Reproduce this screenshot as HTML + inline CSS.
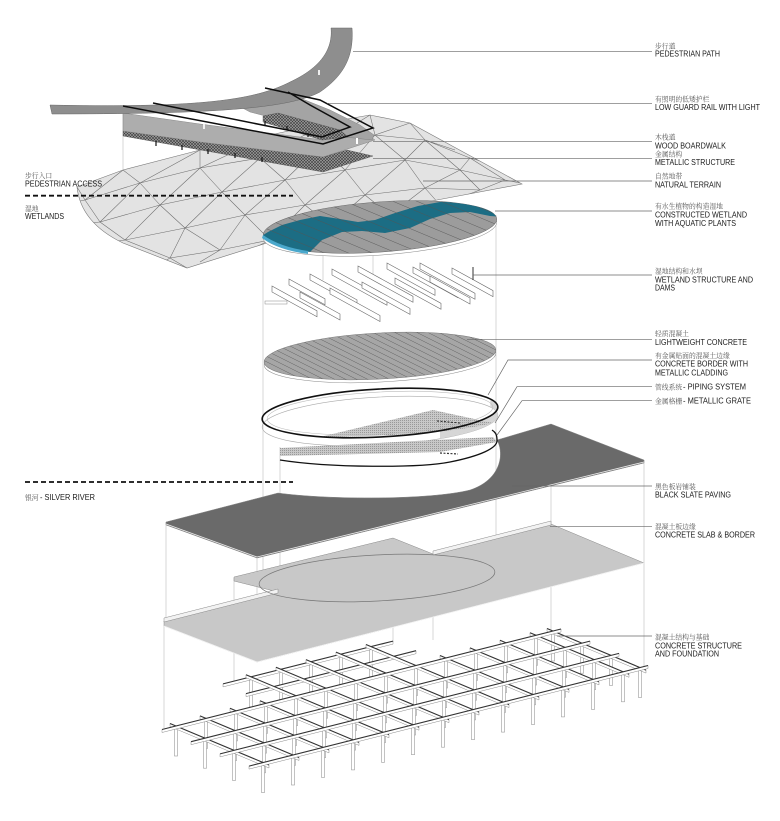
<!DOCTYPE html>
<html><head><meta charset="utf-8">
<style>
html,body{margin:0;padding:0;background:#fff;}
svg{display:block;}
.en{font-family:"Liberation Sans",Arial,sans-serif;font-size:8px;fill:#1a1a1a;}
.cn{font-family:"Liberation Serif","Noto Serif CJK SC","Noto Sans CJK SC",serif;font-size:6.8px;fill:#555;}
.ld{stroke:#666;stroke-width:0.7;fill:none;}
.vl{stroke:#bdbdbd;stroke-width:0.6;fill:none;}
.bm{fill:#fff;stroke:#8a8a8a;stroke-width:0.5;}
.bt{stroke:#333;stroke-width:1.1;fill:none;}
.pt{fill:#fff;stroke:#999;stroke-width:0.6;}
.fin{fill:#fff;stroke:#666;stroke-width:0.6;}
</style></head><body>
<svg width="780" height="821" viewBox="0 0 780 821" xmlns="http://www.w3.org/2000/svg">
<defs>
<pattern id="hatch" width="3" height="3" patternUnits="userSpaceOnUse">
<rect width="3" height="3" fill="#9c9c9c"/>
<path d="M0,0 L3,3 M3,0 L0,3" stroke="#3a3a3a" stroke-width="0.6"/>
</pattern>
<pattern id="grate" width="2" height="2" patternUnits="userSpaceOnUse">
<rect width="2" height="2" fill="#c8c8c8"/>
<rect width="1" height="1" fill="#999"/>
</pattern>
<clipPath id="terrClip"><path d="M77,187 L123,170 L200,150 L270,135 L330,122 L370,115 L410,123 L522,184 L437,200 L300,228 L270,242 L187,268 L123,243 C100,232 80,215 77,187 Z"/></clipPath>
<clipPath id="wetClip"><ellipse cx="380" cy="227" rx="117" ry="25" transform="rotate(-4 380 227)"/></clipPath>
<clipPath id="lwClip"><ellipse cx="380" cy="356" rx="116" ry="23" transform="rotate(-3 380 356)"/></clipPath>
</defs>

<!-- vertical projection lines -->
<g class="vl">
<path d="M123,106 V200 M275,137 V240 M323,143 V280 M373,130 V280 M263,236 V583 M496,215 V575 M280,447 V595 M166,522 V626 M164,626 V728 M234,578 V684 M257,558 V662 M551,424 V630 M644,460 V667 M393,538 V642 M433,554 V640"/>
</g>

<!-- terrain -->
<path d="M77,187 L123,170 L200,150 L270,135 L330,122 L370,115 L410,123 L522,184 L437,200 L300,228 L270,242 L187,268 L123,243 C100,232 80,215 77,187 Z" fill="#e3e3e3" stroke="#777" stroke-width="0.6"/>
<g clip-path="url(#terrClip)" stroke="#6e6e6e" stroke-width="0.55" fill="none">
<path d="M60,205 L85,200 L140,183 L200,168 L260,158 L320,146 L375,135 L425,140 L470,158 L530,175
M70,225 L100,222 L160,205 L222,192 L285,180 L345,170 L405,160 L460,170 L505,180 L530,185
M90,245 L125,240 L185,228 L245,215 L305,205 L365,195 L425,188 L480,190
M150,270 L170,258 L220,250 L270,240 L330,225 L390,215 L440,205
M85,200 L100,222 M140,183 L160,205 M200,168 L222,192 M260,158 L285,180 M320,146 L345,170 M375,135 L405,160 M425,140 L460,170 M470,158 L505,180
M140,183 L100,222 M200,168 L160,205 M260,158 L222,192 M320,146 L285,180 M375,135 L345,170 M425,140 L405,160 M470,158 L460,170
M100,222 L125,240 M160,205 L185,228 M222,192 L245,215 M285,180 L305,205 M345,170 L365,195 M405,160 L425,188 M460,170 L480,190
M160,205 L125,240 M222,192 L185,228 M285,180 L245,215 M345,170 L305,205 M405,160 L365,195 M460,170 L425,188 M505,180 L480,190
M125,240 L170,258 M185,228 L220,250 M245,215 L270,240 M305,205 L330,225 M365,195 L390,215 M425,188 L440,205
M185,228 L170,258 M245,215 L220,250 M305,205 L270,240 M365,195 L330,225 M425,188 L390,215 M480,190 L440,205
M77,187 L85,200 M123,170 L85,200 M123,170 L140,183 M200,150 L140,183 M200,150 L200,168 M270,135 L200,168 M270,135 L260,158 M330,122 L260,158 M330,122 L320,146 M370,115 L320,146 M370,115 L375,135 M410,123 L375,135 M410,123 L425,140 M455,150 L425,140
M170,258 L187,268 M220,250 L200,262 M270,240 L240,255"/>
</g>

<!-- boardwalk hatched strip 1 -->
<path d="M123,131 L323,157 L347,150 L373,156 L323,172 L123,136 Z" fill="url(#hatch)" stroke="#555" stroke-width="0.4"/>
<!-- deck A -->
<path d="M123,113 L200,124 L323,140 L367,134 L375,140 L323,157 L200,142 L123,131 Z" fill="#adadad" stroke="#777" stroke-width="0.4"/>
<!-- deck B -->
<path d="M235,104 L300,98 L330,110 L360,125 L374,135 L372,140 L345,137 L300,125 L250,112 Z" fill="#a4a4a4" stroke="#777" stroke-width="0.4"/>
<!-- pedestrian path -->
<path d="M331,28 L352,28 C354,55 345,75 320,92 C290,108 220,114 52,114 L50,105 C200,108 255,100 290,82 C320,68 333,50 331,28 Z" fill="#8e8e8e" stroke="#666" stroke-width="0.5"/>
<!-- hatched strip 2 -->
<path d="M263,116 L278,113 L340,130 L348,137 L322,140 L263,122 Z" fill="url(#hatch)" stroke="#555" stroke-width="0.4"/>
<!-- ticks -->
<path d="M156,141 V146 M182,145 V150 M208,149 V154 M235,153 V158 M262,157 V162 M265,121 V125 M287,126 V130 M308,133 V137" stroke="#111" stroke-width="1.2"/>
<!-- rails -->
<path d="M123,106 L323,144 L373,128 L320,100 L265,88 M153,103 L322,137 L350,127 L310,105 L288,92" stroke="#0d0d0d" stroke-width="1.5" fill="none"/>
<rect x="356" y="138" width="2" height="6" fill="#fff"/>
<rect x="203" y="124" width="2" height="5" fill="#eee"/>
<rect x="318" y="70" width="2" height="5" fill="#eee"/>

<!-- wetland -->
<ellipse cx="380" cy="230" rx="117" ry="25" transform="rotate(-4 380 230)" fill="#fff" stroke="#888" stroke-width="0.5"/>
<ellipse cx="380" cy="227" rx="117" ry="25" transform="rotate(-4 380 227)" fill="#9c9c9c" stroke="#666" stroke-width="0.5"/>
<g clip-path="url(#wetClip)">
<path d="M255,240 L268,232 L282,225 L300,220 L320,216 L340,219 L358,222 L375,220 L395,213 L418,206 L440,202 L465,201 L485,202 L505,208 L505,217 L490,216 L470,212 L450,213 L430,219 L410,228 L385,233 L362,231 L342,232 L322,240 L310,252 L290,255 L260,255 Z" fill="#1c6d84"/>
<path d="M150,190 L310,257 M174,190 L334,257 M198,190 L358,257 M222,190 L382,257 M246,190 L406,257 M270,190 L430,257 M294,190 L454,257 M318,190 L478,257 M342,190 L502,257 M366,190 L526,257 M390,190 L550,257 M414,190 L574,257 M438,190 L598,257 M462,190 L622,257 M486,190 L646,257" stroke="#555" stroke-width="0.45" fill="none"/>
</g>
<path d="M263,235 Q280,247 308,251 L308,254 Q278,250 262,238 Z" fill="#4aa8cc"/>

<!-- dams / fins -->
<g>
<polygon class="fin" points="387,263 435,289.4 435,295.4 387,269"/>
<polygon class="fin" points="420,263 475,293.3 475,299.3 420,269"/>
<polygon class="fin" points="358,266 413,296.3 413,302.3 358,272"/>
<polygon class="fin" points="413,267 458,291.8 458,297.8 413,273"/>
<polygon class="fin" points="452,268 493,290.6 493,296.6 452,274"/>
<polygon class="fin" points="332,269 387,299.3 387,305.3 332,275"/>
<polygon class="fin" points="310,274 357,299.9 357,305.9 310,280"/>
<polygon class="fin" points="430,276 470,298 470,304 430,282"/>
<polygon class="fin" points="395,278 441,303.3 441,309.3 395,284"/>
<polygon class="fin" points="289,279 325,298.8 325,304.8 289,285"/>
<polygon class="fin" points="362,282 410,308.4 410,314.4 362,288"/>
<polygon class="fin" points="272,286 317,310.8 317,316.8 272,292"/>
<polygon class="fin" points="330,288 380,315.5 380,321.5 330,294"/>
<polygon class="fin" points="300,292 340,314 340,320 300,298"/>
<rect x="265" y="301" width="22" height="3" fill="#fff" stroke="#888" stroke-width="0.5"/>
<path d="M473,267 V280" stroke="#333" stroke-width="1"/>
</g>

<!-- lightweight concrete -->
<ellipse cx="380" cy="359" rx="116" ry="23" transform="rotate(-3 380 359)" fill="#fff" stroke="#888" stroke-width="0.5"/>
<ellipse cx="380" cy="356" rx="116" ry="23" transform="rotate(-3 380 356)" fill="#a6a6a6" stroke="#777" stroke-width="0.5"/>
<g clip-path="url(#lwClip)">
<path d="M150,320 L290,390 M161,320 L301,390 M172,320 L312,390 M183,320 L323,390 M194,320 L334,390 M205,320 L345,390 M216,320 L356,390 M227,320 L367,390 M238,320 L378,390 M249,320 L389,390 M260,320 L400,390 M271,320 L411,390 M282,320 L422,390 M293,320 L433,390 M304,320 L444,390 M315,320 L455,390 M326,320 L466,390 M337,320 L477,390 M348,320 L488,390 M359,320 L499,390 M370,320 L510,390 M381,320 L521,390 M392,320 L532,390 M403,320 L543,390 M414,320 L554,390 M425,320 L565,390 M436,320 L576,390 M447,320 L587,390 M458,320 L598,390 M469,320 L609,390" stroke="#5a5a5a" stroke-width="0.45" fill="none"/>
</g>

<!-- black slate -->
<path d="M551,424 L644,460 L644,463 L257,558 L166,525 L166,522 L278,493 C330,500 430,500 470,490 C500,480 505,455 497,440 Z" fill="#6a6a6a" stroke="#888" stroke-width="0.5"/>
<path d="M166,524 L257,557 L644,462" stroke="#eee" stroke-width="0.8" fill="none"/>

<!-- ring / border -->
<ellipse cx="380" cy="421" rx="118" ry="24" transform="rotate(-3 380 421)" fill="none" stroke="#aaa" stroke-width="0.6"/>
<path d="M490.3,399 A118,24,-3,0,1,440,430.7 L440,438.7 A118,24,-3,0,0,490.3,407 Z" fill="#d6d6d6"/>
<path d="M320,437 L433,410 L493,423 Q440,436 320,437 Z" fill="url(#grate)"/>
<path d="M437,421 L460,423" stroke="#222" stroke-width="1" stroke-dasharray="2 1.5"/>
<ellipse cx="380" cy="413" rx="113" ry="21" transform="rotate(-3 380 413)" fill="none" stroke="#bbb" stroke-width="0.6"/>
<ellipse cx="380" cy="413" rx="118" ry="24" transform="rotate(-3 380 413)" fill="none" stroke="#111" stroke-width="1.6"/>
<path d="M280,448 L493,437 L497,442 L440,452 L280,456 Z" fill="url(#grate)"/>
<path d="M440,453 L458,454" stroke="#333" stroke-width="1.2" stroke-dasharray="2 1.5"/>
<path d="M280,460 C330,468 420,468 450,462 C480,456 498,448 497,440 C497,434 495,432 492,430" stroke="#111" stroke-width="1.3" fill="none"/>

<!-- concrete slab -->
<path d="M551,524 L644,563 L257,662 L164,626 L164,621 L278,592 L234,581 L234,577 L393,538 L433,554 Z" fill="#c8c8c8" stroke="#888" stroke-width="0.5"/>
<polygon points="433,551 551,521 551,525 433,555" fill="#f2f2f2" stroke="#888" stroke-width="0.5"/>
<polygon points="164,618 278,589 278,593 164,622" fill="#f2f2f2" stroke="#888" stroke-width="0.5"/>
<ellipse cx="377" cy="578" rx="118" ry="23" transform="rotate(-3 377 578)" fill="none" stroke="#777" stroke-width="0.7"/>
<path d="M164,626 L257,662 L644,563" stroke="#f5f5f5" stroke-width="0.8" fill="none"/>

<!-- foundation posts -->
<g class="pt">
<rect x="249.5" y="676.8" width="3" height="30"/><rect x="279.5" y="669.3" width="3" height="30"/><rect x="309.5" y="661.7" width="3" height="30"/><rect x="339.5" y="654.2" width="3" height="30"/><rect x="369.5" y="646.6" width="3" height="30"/>
<rect x="174.5" y="726" width="3" height="30"/><rect x="204.5" y="718.4" width="3" height="30"/><rect x="234.5" y="710.9" width="3" height="30"/><rect x="264.5" y="703.3" width="3" height="30"/><rect x="294.5" y="695.7" width="3" height="30"/><rect x="324.5" y="688.2" width="3" height="30"/><rect x="354.5" y="680.6" width="3" height="30"/><rect x="384.5" y="673.1" width="3" height="30"/><rect x="414.5" y="665.5" width="3" height="30"/><rect x="444.5" y="658" width="3" height="30"/><rect x="474.5" y="650.4" width="3" height="30"/><rect x="504.5" y="642.8" width="3" height="30"/><rect x="534.5" y="635.3" width="3" height="30"/><rect x="551.5" y="631" width="3" height="30"/>
<rect x="203.5" y="738.2" width="3" height="30"/><rect x="233.5" y="730.6" width="3" height="30"/><rect x="263.5" y="723.1" width="3" height="30"/><rect x="293.5" y="715.5" width="3" height="30"/><rect x="323.5" y="707.9" width="3" height="30"/><rect x="353.5" y="700.4" width="3" height="30"/><rect x="383.5" y="692.8" width="3" height="30"/><rect x="413.5" y="685.3" width="3" height="30"/><rect x="443.5" y="677.7" width="3" height="30"/><rect x="473.5" y="670.2" width="3" height="30"/><rect x="503.5" y="662.6" width="3" height="30"/><rect x="533.5" y="655" width="3" height="30"/><rect x="563.5" y="647.5" width="3" height="30"/><rect x="580.5" y="643.2" width="3" height="30"/>
<rect x="232.5" y="750.4" width="3" height="30"/><rect x="262.5" y="742.8" width="3" height="30"/><rect x="292.5" y="735.3" width="3" height="30"/><rect x="322.5" y="727.7" width="3" height="30"/><rect x="352.5" y="720.1" width="3" height="30"/><rect x="382.5" y="712.6" width="3" height="30"/><rect x="412.5" y="705" width="3" height="30"/><rect x="442.5" y="697.5" width="3" height="30"/><rect x="472.5" y="689.9" width="3" height="30"/><rect x="502.5" y="682.4" width="3" height="30"/><rect x="532.5" y="674.8" width="3" height="30"/><rect x="562.5" y="667.2" width="3" height="30"/><rect x="592.5" y="659.7" width="3" height="30"/><rect x="609.5" y="655.4" width="3" height="30"/>
<rect x="261.5" y="762.5" width="3" height="30"/><rect x="291.5" y="755" width="3" height="30"/><rect x="321.5" y="747.4" width="3" height="30"/><rect x="351.5" y="739.9" width="3" height="30"/><rect x="381.5" y="732.3" width="3" height="30"/><rect x="411.5" y="724.7" width="3" height="30"/><rect x="441.5" y="717.2" width="3" height="30"/><rect x="471.5" y="709.6" width="3" height="30"/><rect x="501.5" y="702.1" width="3" height="30"/><rect x="531.5" y="694.5" width="3" height="30"/><rect x="561.5" y="686.9" width="3" height="30"/><rect x="591.5" y="679.4" width="3" height="30"/><rect x="621.5" y="671.8" width="3" height="30"/><rect x="638.5" y="667.5" width="3" height="30"/>
</g>

<!-- foundation beams: tab v-beams -->
<g>
<polygon class="bm" points="223,683.9 393,641.1 393,644.1 223,686.9"/><path class="bt" d="M223,683.9 L393,641.1"/>
<polygon class="bm" points="246,693.6 416,650.7 416,653.7 246,696.6"/><path class="bt" d="M246,693.6 L416,650.7"/>
</g>
<!-- u-beams -->
<g>
<polygon class="bm" points="170,723.5 269,765 269,768 170,726.5"/><path class="bt" d="M170,723.5 L269,765"/>
<polygon class="bm" points="200,715.9 299,757.5 299,760.5 200,718.9"/><path class="bt" d="M200,715.9 L299,757.5"/>
<polygon class="bm" points="230,708.3 329,749.9 329,752.9 230,711.3"/><path class="bt" d="M230,708.3 L329,749.9"/>
<polygon class="bm" points="260,700.8 359,742.4 359,745.4 260,703.8"/><path class="bt" d="M260,700.8 L359,742.4"/>
<polygon class="bm" points="246,674.7 389,734.8 389,737.8 246,677.7"/><path class="bt" d="M246,674.7 L389,734.8"/>
<polygon class="bm" points="276,667.2 419,727.2 419,730.2 276,670.2"/><path class="bt" d="M276,667.2 L419,727.2"/>
<polygon class="bm" points="306,659.6 449,719.7 449,722.7 306,662.6"/><path class="bt" d="M306,659.6 L449,719.7"/>
<polygon class="bm" points="336,652.1 479,712.1 479,715.1 336,655.1"/><path class="bt" d="M336,652.1 L479,712.1"/>
<polygon class="bm" points="366,644.5 509,704.6 509,707.6 366,647.5"/><path class="bt" d="M366,644.5 L509,704.6"/>
<polygon class="bm" points="440,655.5 539,697 539,700 440,658.5"/><path class="bt" d="M440,655.5 L539,697"/>
<polygon class="bm" points="470,647.9 569,689.4 569,692.4 470,650.9"/><path class="bt" d="M470,647.9 L569,689.4"/>
<polygon class="bm" points="500,640.3 599,681.9 599,684.9 500,643.3"/><path class="bt" d="M500,640.3 L599,681.9"/>
<polygon class="bm" points="530,632.7 629,674.3 629,677.3 530,635.7"/><path class="bt" d="M530,632.7 L629,674.3"/>
<polygon class="bm" points="547,628.5 646,670.1 646,673.1 547,631.5"/><path class="bt" d="M547,628.5 L646,670.1"/>
</g>
<!-- v-beams -->
<g>
<polygon class="bm" points="162,729.5 561,629 561,632 162,732.5"/><path class="bt" d="M162,729.5 L561,629"/>
<polygon class="bm" points="191,741.7 590,641.1 590,644.1 191,744.7"/><path class="bt" d="M191,741.7 L590,641.1"/>
<polygon class="bm" points="220,753.9 619,653.4 619,656.4 220,756.9"/><path class="bt" d="M220,753.9 L619,653.4"/>
<polygon class="bm" points="249,766.1 648,665.5 648,668.5 249,769.1"/><path class="bt" d="M249,766.1 L648,665.5"/>
</g>

<!-- dashed separators -->
<path d="M25,195.7 H293 M25,482 H293" stroke="#111" stroke-width="1.8" stroke-dasharray="5 3"/>

<!-- leader lines -->
<g class="ld">
<path d="M353,51.7 H652"/>
<path d="M327,103.3 H652"/>
<path d="M373,141.7 H652"/>
<path d="M373,158.3 H652"/>
<path d="M423,181 H652"/>
<path d="M495,211 H652"/>
<path d="M473,275 H652"/>
<path d="M467,339.3 H652"/>
<path d="M488,395 L508,360 H652"/>
<path d="M495,423 L517,386.7 H652"/>
<path d="M497,435 L522,400.7 H652"/>
<path d="M512,486 H652"/>
<path d="M550,526.7 H652"/>
<path d="M557,636 H652"/>
</g>

<!-- labels right -->
<text class="cn" x="655" y="48.3">步行道</text>
<text class="en" x="655" y="56.7" textLength="65" lengthAdjust="spacingAndGlyphs">PEDESTRIAN PATH</text>
<text class="cn" x="655" y="101.5">有照明的低矮护栏</text>
<text class="en" x="655" y="110" textLength="105" lengthAdjust="spacingAndGlyphs">LOW GUARD RAIL WITH LIGHT</text>
<text class="cn" x="655" y="139.5">木栈道</text>
<text class="en" x="655" y="148.3" textLength="71" lengthAdjust="spacingAndGlyphs">WOOD BOARDWALK</text>
<text class="cn" x="655" y="156.5">金属结构</text>
<text class="en" x="655" y="165" textLength="80" lengthAdjust="spacingAndGlyphs">METALLIC STRUCTURE</text>
<text class="cn" x="655" y="178.5">自然地带</text>
<text class="en" x="655" y="187.3" textLength="66" lengthAdjust="spacingAndGlyphs">NATURAL TERRAIN</text>
<text class="cn" x="655" y="208.3">有水生植物的构造湿地</text>
<text class="en" x="655" y="217.3" textLength="92" lengthAdjust="spacingAndGlyphs">CONSTRUCTED WETLAND</text>
<text class="en" x="655" y="226" textLength="81" lengthAdjust="spacingAndGlyphs">WITH AQUATIC PLANTS</text>
<text class="cn" x="655" y="273.5">湿地结构和水坝</text>
<text class="en" x="655" y="282.3" textLength="98" lengthAdjust="spacingAndGlyphs">WETLAND STRUCTURE AND</text>
<text class="en" x="655" y="290.7" textLength="20" lengthAdjust="spacingAndGlyphs">DAMS</text>
<text class="cn" x="655" y="336">轻质混凝土</text>
<text class="en" x="655" y="345" textLength="92" lengthAdjust="spacingAndGlyphs">LIGHTWEIGHT CONCRETE</text>
<text class="cn" x="655" y="358">有金属贴面的混凝土边缘</text>
<text class="en" x="655" y="366.7" textLength="93" lengthAdjust="spacingAndGlyphs">CONCRETE BORDER WITH</text>
<text class="en" x="655" y="375.3" textLength="73" lengthAdjust="spacingAndGlyphs">METALLIC CLADDING</text>
<text class="cn" x="655" y="389.7">管线系统</text>
<text class="en" x="683" y="389.7" textLength="63" lengthAdjust="spacingAndGlyphs">- PIPING SYSTEM</text>
<text class="cn" x="655" y="403.3">金属格栅</text>
<text class="en" x="683" y="403.3" textLength="68" lengthAdjust="spacingAndGlyphs">- METALLIC GRATE</text>
<text class="cn" x="655" y="489">黑色板岩铺装</text>
<text class="en" x="655" y="497.7" textLength="76" lengthAdjust="spacingAndGlyphs">BLACK SLATE PAVING</text>
<text class="cn" x="655" y="529">混凝土板边缘</text>
<text class="en" x="655" y="537.7" textLength="100" lengthAdjust="spacingAndGlyphs">CONCRETE SLAB &amp; BORDER</text>
<text class="cn" x="655" y="639.3">混凝土结构与基础</text>
<text class="en" x="655" y="648.3" textLength="87" lengthAdjust="spacingAndGlyphs">CONCRETE STRUCTURE</text>
<text class="en" x="655" y="656.7" textLength="64" lengthAdjust="spacingAndGlyphs">AND FOUNDATION</text>

<!-- labels left -->
<text class="cn" x="25" y="178">步行入口</text>
<text class="en" x="25" y="186.7" textLength="77" lengthAdjust="spacingAndGlyphs">PEDESTRIAN ACCESS</text>
<text class="cn" x="25" y="211">湿地</text>
<text class="en" x="25" y="219" textLength="39" lengthAdjust="spacingAndGlyphs">WETLANDS</text>
<text class="cn" x="25" y="500">银河</text>
<text class="en" x="40" y="500" textLength="55" lengthAdjust="spacingAndGlyphs">- SILVER RIVER</text>
</svg>
</body></html>
